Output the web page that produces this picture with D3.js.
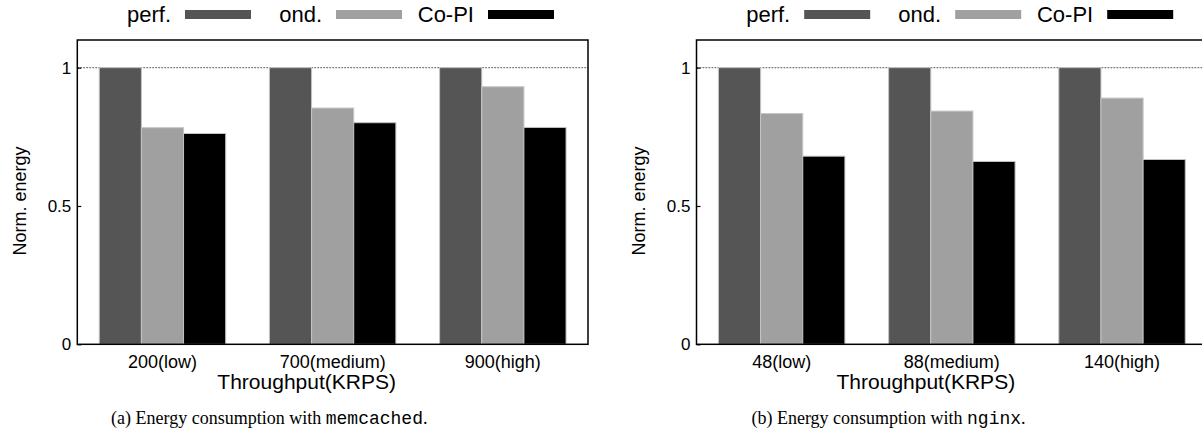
<!DOCTYPE html>
<html>
<head>
<meta charset="utf-8">
<script src="https://cdn.jsdelivr.net/npm/d3@7"></script>
<style>
  body { margin: 0; background: #fff; }
  text { font-family: 'Liberation Sans', Arial, sans-serif; }
</style>
</head>
<body>
<svg width="1202" height="439"></svg>
<script>
const svg = d3.select('svg');

// data
const series = ['perf.', 'ond.', 'Co-PI'];
const colors = ['#555555', '#a0a0a0', '#000000'];
const yTicks = [0, 0.5, 1];

const memcachedLabels = ['200(low)', '700(medium)', '900(high)'];
const memcachedPerf = [1, 1, 1];
const memcachedOnd = [0.783, 0.854, 0.931];
const memcachedCoPI = [0.762, 0.801, 0.784];

const nginxLabels = ['48(low)', '88(medium)', '140(high)'];
const nginxPerf = [1, 1, 1];
const nginxOnd = [0.834, 0.843, 0.890];
const nginxCoPI = [0.680, 0.661, 0.668];

const PLOT = { TOP: 40, BOTTOM: 344.3, WIDTH: 510.7 };

function drawPanel(left, labels, values, captionTag, captionMono) {
  const g = svg.append('g');
  const right = left + PLOT.WIDTH;

  const x = d3.scaleBand()
    .domain(labels)
    .range([left, right])
    .paddingInner(0.257)
    .paddingOuter(0.129);
  const xs = d3.scaleBand()
    .domain(series)
    .range([0, x.bandwidth()]);
  const y = d3.scaleLinear().domain([0, 1.1]).range([PLOT.BOTTOM, PLOT.TOP]);

  // dotted reference line at 1
  g.append('line')
    .attr('x1', left).attr('x2', right)
    .attr('y1', y(1)).attr('y2', y(1))
    .attr('stroke', '#777')
    .attr('stroke-width', 1.2)
    .attr('stroke-dasharray', '1.8,1.2');

  // bars
  labels.forEach((lab, i) => {
    series.forEach((s, j) => {
      const v = values[j][i];
      g.append('rect')
        .attr('x', x(lab) + xs(s))
        .attr('y', y(v))
        .attr('width', xs.bandwidth())
        .attr('height', y(0) - y(v))
        .attr('fill', colors[j])
        .attr('stroke', '#c4c4c4')
        .attr('stroke-width', 1);
    });
  });

  // frame
  g.append('rect')
    .attr('x', left).attr('y', PLOT.TOP)
    .attr('width', PLOT.WIDTH).attr('height', PLOT.BOTTOM - PLOT.TOP)
    .attr('fill', 'none')
    .attr('stroke', '#000')
    .attr('stroke-width', 1.5);

  // y axis (ticks inward)
  const yAxis = g.append('g')
    .attr('transform', `translate(${left},0)`)
    .call(d3.axisRight(y).tickValues(yTicks).tickSize(4).tickFormat(() => ''));
  yAxis.select('.domain').remove();
  yAxis.selectAll('line').attr('stroke-width', 1.2);

  g.selectAll('.ylab')
    .data(yTicks)
    .join('text')
    .attr('x', left - 6)
    .attr('y', d => y(d))
    .attr('dy', '0.35em')
    .attr('text-anchor', 'end')
    .attr('font-size', 17)
    .text(d => d);

  g.append('text')
    .attr('transform', `translate(${left - 58},201) rotate(-90)`)
    .attr('text-anchor', 'middle')
    .attr('dy', '0.35em')
    .attr('font-size', 18)
    .text('Norm. energy');

  // x tick labels
  g.selectAll('.xlab')
    .data(labels)
    .join('text')
    .attr('x', d => x(d) + x.bandwidth() / 2)
    .attr('y', 362)
    .attr('dy', '0.35em')
    .attr('text-anchor', 'middle')
    .attr('font-size', 18)
    .text(d => d);

  g.append('text')
    .attr('x', left + PLOT.WIDTH / 2 - 26)
    .attr('y', 382)
    .attr('dy', '0.35em')
    .attr('text-anchor', 'middle')
    .attr('font-size', 21)
    .text('Throughput(KRPS)');

  // legend
  const swatchX = [185, 336, 488].map(v => v - 77.3 + left);
  series.forEach((s, j) => {
    g.append('rect')
      .attr('x', swatchX[j]).attr('y', 10)
      .attr('width', 66).attr('height', 9)
      .attr('fill', colors[j]);
    g.append('text')
      .attr('x', swatchX[j] - 14)
      .attr('y', 14)
      .attr('dy', '0.35em')
      .attr('text-anchor', 'end')
      .attr('font-size', 22)
      .text(s);
  });

  // caption
  const cap = g.append('text')
    .attr('x', left + 192)
    .attr('y', 418)
    .attr('dy', '0.35em')
    .attr('text-anchor', 'middle')
    .attr('font-size', 18)
    .style('font-family', "'Liberation Serif', 'Times New Roman', serif");
  cap.append('tspan').text(`(${captionTag}) Energy consumption with `);
  cap.append('tspan')
    .style('font-family', "'Liberation Mono', 'Courier New', monospace")
    .text(captionMono);
  cap.append('tspan').text('.');
}

drawPanel(77.3, memcachedLabels, [memcachedPerf, memcachedOnd, memcachedCoPI], 'a', 'memcached');
drawPanel(696.5, nginxLabels, [nginxPerf, nginxOnd, nginxCoPI], 'b', 'nginx');
</script>
</body>
</html>
